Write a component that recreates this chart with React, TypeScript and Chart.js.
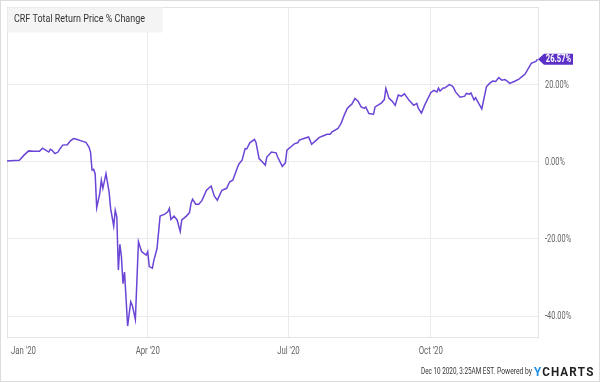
import React, { useEffect, useRef } from "react";
import { Chart, registerables } from "chart.js";

Chart.register(...registerables);

// ---------- data ----------
const dates = [
  "2020-01-01","2020-01-03","2020-01-09","2020-01-12","2020-01-15","2020-01-18","2020-01-22","2020-01-24","2020-01-26","2020-01-28",
  "2020-01-29","2020-01-30","2020-02-01","2020-02-03","2020-02-04","2020-02-06","2020-02-09","2020-02-11","2020-02-13","2020-02-15",
  "2020-02-18","2020-02-21","2020-02-23","2020-02-24","2020-02-25","2020-02-26","2020-02-27","2020-02-28","2020-03-01","2020-03-02",
  "2020-03-03","2020-03-05","2020-03-07","2020-03-08","2020-03-10","2020-03-11","2020-03-12","2020-03-13","2020-03-14","2020-03-15",
  "2020-03-16","2020-03-17","2020-03-19","2020-03-21","2020-03-22","2020-03-24","2020-03-26","2020-03-28","2020-03-31","2020-04-01",
  "2020-04-02","2020-04-04","2020-04-05","2020-04-07","2020-04-09","2020-04-12","2020-04-14","2020-04-15","2020-04-16","2020-04-18",
  "2020-04-20","2020-04-22","2020-04-23","2020-04-26","2020-04-28","2020-04-29","2020-04-30","2020-05-02","2020-05-04","2020-05-06",
  "2020-05-09","2020-05-12","2020-05-14","2020-05-16","2020-05-18","2020-05-19","2020-05-22","2020-05-24","2020-05-26","2020-05-29",
  "2020-05-30","2020-06-01","2020-06-03","2020-06-04","2020-06-06","2020-06-09","2020-06-10","2020-06-12","2020-06-14","2020-06-16",
  "2020-06-17","2020-06-20","2020-06-23","2020-06-24","2020-06-27","2020-06-29","2020-06-30","2020-07-03","2020-07-05","2020-07-07",
  "2020-07-08","2020-07-11","2020-07-14","2020-07-16","2020-07-19","2020-07-21","2020-07-24","2020-07-26","2020-07-28","2020-07-29",
  "2020-08-02","2020-08-04","2020-08-06","2020-08-08","2020-08-10","2020-08-11","2020-08-13","2020-08-15","2020-08-17","2020-08-19",
  "2020-08-20","2020-08-22","2020-08-25","2020-08-26","2020-08-30","2020-09-01","2020-09-02","2020-09-04","2020-09-06","2020-09-08",
  "2020-09-10","2020-09-12","2020-09-14","2020-09-17","2020-09-20","2020-09-22","2020-09-23","2020-09-25","2020-09-27","2020-10-01",
  "2020-10-03","2020-10-05","2020-10-06","2020-10-07","2020-10-09","2020-10-10","2020-10-13","2020-10-15","2020-10-16","2020-10-17",
  "2020-10-20","2020-10-23","2020-10-24","2020-10-26","2020-10-27","2020-10-29","2020-10-30","2020-11-01","2020-11-03","2020-11-06",
  "2020-11-08","2020-11-10","2020-11-12","2020-11-14","2020-11-16","2020-11-18","2020-11-20","2020-11-21","2020-11-24","2020-11-27",
  "2020-12-01","2020-12-05","2020-12-08","2020-12-09",
];

const values = [
  0.2, 0.25, 0.4, 1.7, 2.8, 2.7, 2.7, 3.5, 3.0, 2.5,
  3.2, 3.0, 2.1, 2.5, 3.2, 4.3, 4.4, 5.4, 6.0, 5.8,
  5.4, 5.0, 3.8, 2.5, -2.2, -2.0, -3.1, -11.9, -8.2, -4.8,
  -6.9, -3.1, -7.8, -12.1, -16.7, -12.6, -14.3, -28.1, -21.4, -24.7,
  -31.6, -28.6, -42.6, -36.3, -37.2, -40.9, -20.7, -23.3, -24.2, -23.3,
  -27.2, -27.6, -25.5, -22.5, -14.1, -13.6, -13.0, -12.1, -15.0, -14.1,
  -15.1, -18.1, -15.1, -14.1, -13.2, -10.8, -9.7, -11.0, -11.0, -10.1,
  -7.4, -6.3, -8.9, -10.0, -8.2, -7.4, -6.9, -5.2, -4.8, -1.5,
  -0.6, 0.4, 3.4, 3.3, 4.9, 5.8, 5.0, 0.8, 0.0, -0.9,
  1.2, 2.5, 2.3, 1.2, -1.2, -0.3, 3.0, 4.0, 4.7, 4.9,
  5.6, 6.0, 6.4, 4.5, 5.6, 6.3, 6.8, 7.1, 7.1, 7.7,
  8.6, 9.9, 12.0, 13.8, 14.6, 14.9, 16.4, 15.7, 14.2, 13.8,
  14.2, 12.5, 12.3, 14.2, 15.2, 16.1, 19.0, 16.4, 15.7, 14.6,
  17.3, 17.0, 17.6, 15.9, 14.6, 15.1, 13.8, 12.6, 14.6, 17.9,
  18.5, 18.1, 19.1, 18.3, 19.1, 19.1, 20.0, 19.6, 19.0, 18.1,
  16.7, 17.0, 17.7, 17.5, 17.8, 16.0, 16.6, 15.1, 13.7, 19.4,
  20.3, 20.9, 20.8, 21.8, 21.1, 21.3, 20.7, 20.3, 20.8, 21.4,
  22.7, 25.5, 26.0, 26.57,
];

const xTickDates = ["2020-01-01", "2020-04-01", "2020-07-01", "2020-10-01"];
const xTickLabels = ["Jan '20", "Apr '20", "Jul '20", "Oct '20"];
const yTickValues = [-40, -20, 0, 20];
const xEndDate = "2020-12-10";
const yMin = -45.7;
const yMax = 40.1;

const titleText = "CRF Total Return Price % Change";
const lastValueLabel = "26.57%";
const stampText = "Dec 10 2020, 3:25AM EST.";
const poweredText = "Powered by";
const brandFirst = "Y";
const brandRest = "CHARTS";

// ---------- helpers ----------
const BASE = Date.UTC(2020, 0, 1);
const dayOf = (s: string) =>
  (Date.UTC(+s.slice(0, 4), +s.slice(5, 7) - 1, +s.slice(8, 10)) - BASE) / 86400000;

const FONT = "Roboto, 'Noto Sans', sans-serif";
const LINE = "#6a45d6";
const BADGE = "#5c30c6";
const GRID = "#ebebeb";

function drawText(
  ctx: CanvasRenderingContext2D,
  text: string,
  x: number,
  y: number,
  sx: number,
  align: CanvasTextAlign,
  baseline: CanvasTextBaseline = "middle"
) {
  ctx.save();
  ctx.translate(x, y);
  ctx.scale(sx, 1);
  ctx.textAlign = align;
  ctx.textBaseline = baseline;
  ctx.fillText(text, 0, 0);
  ctx.restore();
}

function fitScale(ctx: CanvasRenderingContext2D, text: string, target: number) {
  const w = ctx.measureText(text).width;
  return w > 0 ? target / w : 1;
}

const decor = {
  id: "decor",
  beforeDraw(chart: any) {
    const { ctx, width, height } = chart;
    ctx.save();
    ctx.fillStyle = "#ffffff";
    ctx.fillRect(0, 0, width, height);
    ctx.strokeStyle = "#dcdcdc";
    ctx.lineWidth = 1;
    ctx.strokeRect(0.5, 0.5, width - 1, height - 1);
    ctx.restore();
  },
  beforeDatasetsDraw(chart: any) {
    const { ctx, chartArea: a } = chart;
    ctx.save();
    ctx.strokeStyle = "#e3e3e3";
    ctx.lineWidth = 1;
    ctx.strokeRect(Math.round(a.left) + 0.5, Math.round(a.top) + 0.5, Math.round(a.right - a.left) - 1, Math.round(a.bottom - a.top) - 1);
    ctx.restore();
  },
  afterDraw(chart: any) {
    const { ctx, chartArea: a, scales } = chart;
    const xs = scales.x;
    const ys = scales.y;
    ctx.save();

    // title box
    ctx.fillStyle = "#f4f4f4";
    ctx.fillRect(a.left + 0.5, a.top + 0.5, 155, 25);
    ctx.fillStyle = "#333333";
    ctx.font = `11px ${FONT}`;
    drawText(ctx, titleText, a.left + 7, a.top + 12.5, fitScale(ctx, titleText, 131), "left");

    // x tick labels
    ctx.fillStyle = "#666666";
    ctx.font = `10px ${FONT}`;
    xTickDates.forEach((d, i) => {
      const px = xs.getPixelForValue(dayOf(d));
      const sx = 0.78;
      const w = ctx.measureText(xTickLabels[i]).width * sx;
      if (px - w / 2 < a.left + 4) {
        drawText(ctx, xTickLabels[i], a.left + 4, a.bottom + 13, sx, "left");
      } else {
        drawText(ctx, xTickLabels[i], px, a.bottom + 13, sx, "center");
      }
    });

    // y tick labels
    ctx.fillStyle = "#666666";
    ctx.font = `10px ${FONT}`;
    yTickValues.forEach((v) => {
      const py = ys.getPixelForValue(v);
      drawText(ctx, `${v.toFixed(2)}%`, a.right + 6, py + 0.5, 0.74, "left");
    });

    // last value badge
    const lastY = ys.getPixelForValue(values[values.length - 1]);
    const bx = a.right - 1;
    const h = 5.5;
    ctx.fillStyle = BADGE;
    ctx.beginPath();
    ctx.moveTo(bx, lastY);
    ctx.lineTo(bx + 6, lastY - h);
    ctx.lineTo(bx + 35, lastY - h);
    ctx.lineTo(bx + 35, lastY + h);
    ctx.lineTo(bx + 6, lastY + h);
    ctx.closePath();
    ctx.fill();
    ctx.fillStyle = "#ffffff";
    ctx.font = `bold 10px ${FONT}`;
    drawText(ctx, lastValueLabel, bx + 20.5, lastY + 0.5, 0.76, "center");

    // footer
    const fy = 372;
    ctx.fillStyle = "#333333";
    ctx.font = `9px ${FONT}`;
    drawText(ctx, stampText, 421, fy, fitScale(ctx, stampText, 74), "left");
    drawText(ctx, poweredText, 497, fy, fitScale(ctx, poweredText, 35), "left");
    ctx.font = `bold 13px ${FONT}`;
    const wy = ctx.measureText(brandFirst).width;
    const wr = ctx.measureText(brandRest).width;
    const spacing = 1.2;
    const total = wy + wr + spacing * (brandRest.length);
    const s = 59 / total;
    ctx.save();
    ctx.translate(534, fy + 0.5);
    ctx.scale(s, 1);
    ctx.textAlign = "left";
    ctx.textBaseline = "middle";
    ctx.fillStyle = "#1e90e6";
    ctx.fillText(brandFirst, 0, 0);
    let cx = wy + spacing;
    ctx.fillStyle = "#1f1f1f";
    for (const ch of brandRest) {
      ctx.fillText(ch, cx, 0);
      cx += ctx.measureText(ch).width + spacing;
    }
    ctx.restore();

    ctx.restore();
  },
};

export default function App() {
  const canvasRef = useRef<HTMLCanvasElement | null>(null);

  useEffect(() => {
    const canvas = canvasRef.current;
    if (!canvas) return;
    const points = dates.map((d, i) => ({ x: dayOf(d), y: values[i] }));
    const xTickValues = xTickDates.map(dayOf);

    const chart = new Chart(canvas, {
      type: "line",
      data: {
        datasets: [
          {
            data: points,
            borderColor: LINE,
            borderWidth: 1.5,
            pointRadius: 0,
            tension: 0,
            fill: false,
          },
        ],
      },
      options: {
        animation: false,
        responsive: false,
        maintainAspectRatio: false,
        events: [],
        layout: { padding: { left: 7, top: 7, right: 0, bottom: 0 } },
        plugins: {
          legend: { display: false },
          tooltip: { enabled: false },
          title: { display: false },
        },
        scales: {
          x: {
            type: "linear",
            min: 0,
            max: dayOf(xEndDate),
            afterBuildTicks: (scale: any) => {
              scale.ticks = xTickValues.map((v) => ({ value: v }));
            },
            afterFit: (scale: any) => {
              scale.height = 44;
            },
            ticks: { display: false },
            grid: { color: GRID, lineWidth: 1, drawTicks: false },
            border: { display: false },
          },
          y: {
            position: "right",
            min: yMin,
            max: yMax,
            afterBuildTicks: (scale: any) => {
              scale.ticks = yTickValues.map((v) => ({ value: v }));
            },
            afterFit: (scale: any) => {
              scale.width = 61;
            },
            ticks: { display: false },
            grid: { color: GRID, lineWidth: 1, drawTicks: false },
            border: { display: false },
          },
        },
      },
      plugins: [decor],
    });

    return () => chart.destroy();
  }, []);

  return (
    <div style={{ position: "absolute", left: 0, top: 0, width: 600, height: 382 }}>
      <canvas ref={canvasRef} width={600} height={382} style={{ display: "block" }} />
    </div>
  );
}
